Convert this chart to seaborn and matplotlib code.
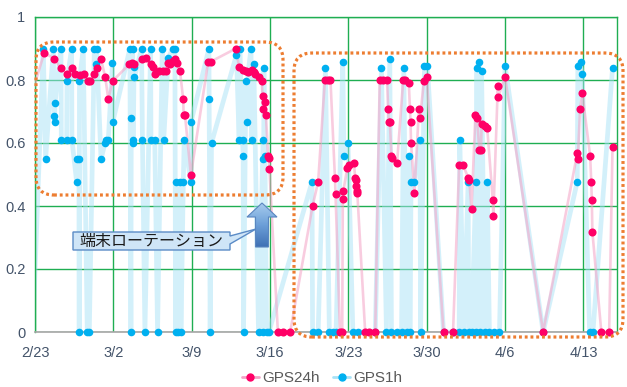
import numpy as np
import pandas as pd
import matplotlib
matplotlib.use("Agg")
import matplotlib.pyplot as plt
import seaborn as sns
from matplotlib.patches import FancyBboxPatch, Polygon
from matplotlib.lines import Line2D
from matplotlib.transforms import IdentityTransform
from matplotlib.colors import LinearSegmentedColormap

# ---- data -------------------------------------------------------------
# x = days since 2/23, y = positioning ratio
week_ticks = [0, 7, 14, 21, 28, 35, 42, 49]
week_labels = ["2/23", "3/2", "3/9", "3/16", "3/23", "3/30", "4/6", "4/13"]
y_ticks = [0, 0.2, 0.4, 0.6, 0.8, 1.0]
y_tick_labels = ["0", "0.2", "0.4", "0.6", "0.8", "1"]

gps1h_day = [
    -0.2, 0.74, 0.95, 1.64, 1.70, 1.75, 1.79, 2.32, 2.35, 2.83, 2.86, 3.27, 3.30,
    3.72, 3.78, 3.93, 3.95, 3.97, 4.31, 4.67, 4.85, 5.30, 5.45, 5.50, 5.90, 6.25,
    6.34, 6.55, 6.92, 6.96, 8.48, 8.57, 8.60, 8.72, 8.74, 8.78, 8.85, 8.89, 9.52,
    9.60, 9.82, 10.33, 10.36, 10.70, 10.95, 11.37, 11.50, 11.90, 12.30, 12.50,
    12.56, 12.62, 12.80, 12.95, 13.04, 13.25, 13.33, 13.93, 13.95, 15.54, 15.56,
    15.65, 15.77, 18.00, 18.24, 18.30, 18.54, 18.60, 18.63, 18.84, 18.90, 19.05,
    19.30, 19.35, 19.55, 19.97, 20.33, 20.38, 20.40, 20.45, 20.54, 20.70, 20.90,
    24.75, 24.80, 25.30, 25.95, 26.30, 26.60, 26.90, 27.50, 27.60, 27.97, 28.40,
    28.90, 30.40, 30.95, 31.40, 31.70, 31.85, 32.30, 32.75, 32.95, 33.20, 33.45,
    33.50, 33.60, 33.90, 34.40, 34.45, 34.80, 35.05, 36.50, 37.35, 37.90, 37.95,
    38.30, 38.70, 38.75, 39.00, 39.40, 39.42, 39.45, 39.70, 39.80, 39.90, 40.20,
    40.40, 40.60, 41.00, 41.50, 42.00, 45.40, 48.45, 48.50, 48.75, 48.90, 49.55,
    49.85, 51.60,
]
gps1h_val = [
    0.0, 0.90, 0.55, 0.90, 0.686, 0.668, 0.726, 0.90, 0.61, 0.61, 0.797, 0.90, 0.61,
    0.477, 0.548, 0.548, 0.0, 0.797, 0.90, 0.0, 0.0, 0.90, 0.85, 0.90, 0.548, 0.60,
    0.61, 0.61, 0.853, 0.668, 0.90, 0.0, 0.678, 0.90, 0.61, 0.60, 0.842, 0.808, 0.90,
    0.61, 0.0, 0.90, 0.61, 0.61, 0.0, 0.90, 0.61, 0.87, 0.90, 0.90,
    0.0, 0.477, 0.0, 0.477, 0.0, 0.477, 0.61, 0.477, 0.668, 0.90, 0.74,
    0.0, 0.60, 0.88, 0.61, 0.90, 0.61, 0.559, 0.0, 0.797, 0.668, 0.826,
    0.90, 0.61, 0.85, 0.0, 0.548, 0.61, 0.0, 0.837, 0.559, 0.0, 0.0,
    0.477, 0.0, 0.0, 0.837, 0.0, 0.0, 0.0, 0.858, 0.559, 0.60, 0.0,
    0.0, 0.0, 0.837, 0.0, 0.866, 0.0, 0.0, 0.0, 0.837, 0.0, 0.559,
    0.0, 0.477, 0.477, 0.61, 0.0, 0.846, 0.846, 0.0, 0.0, 0.0, 0.61,
    0.0, 0.477, 0.0, 0.0, 0.477, 0.0, 0.837, 0.858, 0.0, 0.83, 0.0,
    0.477, 0.0, 0.0, 0.0, 0.846, 0.0, 0.477, 0.846, 0.858, 0.818, 0.0,
    0.0, 0.837,
]

gps24h_day = [
    -0.5, 0.83, 1.72, 2.32, 2.83, 3.27, 3.57, 4.00, 4.37, 4.76, 4.91, 5.30, 5.50,
    5.90, 6.28, 6.55, 6.94, 8.42, 8.63, 8.87, 9.60, 9.88, 10.33, 10.50, 10.70,
    11.10, 11.45, 11.70, 11.90, 12.05, 12.35, 12.55, 12.65, 12.95, 13.24, 13.28,
    13.40, 13.93, 15.47, 15.69, 17.95, 18.24, 18.54, 18.84, 19.05, 19.35, 19.55,
    19.64, 20.00, 20.25, 20.33, 20.38, 20.54, 20.63, 20.83, 20.92, 20.95, 21.70,
    22.20, 22.80, 24.80, 25.30, 25.90, 26.20, 26.40, 26.80, 26.85, 27.25, 27.45,
    27.50, 27.55, 27.90, 28.05, 28.50, 28.60, 28.65, 28.70, 28.75, 28.80, 29.50,
    29.80, 30.40, 30.80, 31.10, 31.45, 31.55, 31.60, 31.70, 31.85, 31.90, 32.35,
    32.90, 33.10, 33.40, 33.50, 33.55, 33.60, 33.90, 34.30, 34.40, 34.75, 35.00,
    36.50, 37.35, 37.90, 38.25, 38.70, 38.80, 39.00, 39.35, 39.50, 39.70, 39.85,
    39.90, 40.20, 40.40, 40.90, 40.95, 41.35, 41.40, 42.00, 45.40, 48.45, 48.50,
    48.70, 48.90, 49.60, 49.70, 49.75, 49.80, 50.60, 51.30, 51.60,
]
gps24h_val = [
    0.73, 0.887, 0.867, 0.837, 0.82, 0.837, 0.82, 0.815, 0.82, 0.797, 0.797, 0.818, 0.837,
    0.866, 0.808, 0.739, 0.797, 0.85, 0.855, 0.85, 0.866, 0.87, 0.85, 0.84, 0.82,
    0.83, 0.83, 0.83, 0.855, 0.85, 0.86, 0.866, 0.853, 0.83, 0.739, 0.689,
    0.689, 0.498, 0.858, 0.858, 0.90, 0.84, 0.832, 0.829, 0.826, 0.832, 0.826,
    0.819, 0.808, 0.797, 0.749, 0.707, 0.731, 0.689, 0.559, 0.551, 0.516, 0.0,
    0.0, 0.0, 0.40, 0.477, 0.80, 0.80, 0.80, 0.488, 0.438, 0.0, 0.0,
    0.421, 0.448, 0.52, 0.53, 0.537, 0.49, 0.483, 0.463, 0.448, 0.44, 0.0,
    0.0, 0.0, 0.80, 0.80, 0.80, 0.707, 0.668, 0.668, 0.559, 0.552, 0.537,
    0.80, 0.80, 0.79, 0.707, 0.668, 0.60, 0.44, 0.707, 0.678, 0.797, 0.808,
    0.0, 0.0, 0.53, 0.53, 0.49, 0.483, 0.39, 0.689, 0.678, 0.578, 0.578,
    0.66, 0.654, 0.649, 0.42, 0.369, 0.78, 0.747, 0.81, 0.0, 0.567, 0.548,
    0.707, 0.758, 0.559, 0.477, 0.419, 0.318, 0.0, 0.0, 0.588,
]

df1h = pd.DataFrame({"day": gps1h_day, "value": gps1h_val})
df24 = pd.DataFrame({"day": gps24h_day, "value": gps24h_val})

# ---- style ------------------------------------------------------------
PINK = "#FF0066"
PINK_LINE = "#F4A3C6"
BLUE = "#00B0F0"
BLUE_LINE = "#A8E2F7"
GRID = "#1FAE52"
TICK_TXT = "#44546A"

sns.set_theme(style="white")
plt.rcParams["font.family"] = ["Liberation Sans", "Noto Sans CJK JP", "DejaVu Sans"]

W, H = 627, 387
fig = plt.figure(figsize=(W / 100, H / 100), dpi=100)
ax = fig.add_axes([35 / W, 55 / H, 582 / W, 315 / H])

# lines (kept in recording order)
sns.lineplot(data=df1h, x="day", y="value", estimator=None, sort=False,
             color=BLUE_LINE, lw=3.4, alpha=0.5, ax=ax, zorder=2)
sns.lineplot(data=df24, x="day", y="value", estimator=None, sort=False,
             color=PINK_LINE, lw=1.9, alpha=0.55, ax=ax, zorder=3)
# markers
sns.scatterplot(data=df1h[df1h["day"] >= 0], x="day", y="value", color=BLUE,
                s=30, linewidth=0, ax=ax, zorder=4, clip_on=False)
sns.scatterplot(data=df24[df24["day"] >= 0], x="day", y="value", color=PINK,
                s=34, linewidth=0, ax=ax, zorder=5, clip_on=False)

ax.set_xlim(0, 52)
ax.set_ylim(0, 1)
ax.set_xticks(week_ticks)
ax.set_xticklabels(week_labels)
ax.set_yticks(y_ticks)
ax.set_yticklabels(y_tick_labels)
ax.set_xlabel("")
ax.set_ylabel("")
ax.grid(True, color=GRID, lw=1.0)
ax.set_axisbelow(True)
ax.tick_params(axis="both", length=0, labelsize=10.5, colors=TICK_TXT)
ax.tick_params(axis="x", pad=10)
ax.tick_params(axis="y", pad=7)
for side in ["top", "right", "left"]:
    ax.spines[side].set_color(GRID)
    ax.spines[side].set_linewidth(1.0)
ax.spines["bottom"].set_color("#A6A6A6")
ax.spines["bottom"].set_linewidth(1.2)

# legend
handles = [
    Line2D([0], [0], color=PINK_LINE, lw=2, marker="o", markersize=5,
           markerfacecolor=PINK, markeredgecolor=PINK),
    Line2D([0], [0], color=BLUE_LINE, lw=2, marker="o", markersize=5,
           markerfacecolor=BLUE, markeredgecolor=BLUE),
]
fig.legend(handles, ["GPS24h", "GPS1h"], loc="center", ncol=2,
           bbox_to_anchor=(322 / W, 9 / H), frameon=False, fontsize=11,
           labelcolor="#595959", handlelength=1.1, handletextpad=0.2,
           columnspacing=0.9)


def disp(x, y_top):
    """pixel position measured from the top-left corner -> display coords"""
    return (x, H - y_top)


# dotted groupings
for x0, y0, x1, y1 in [(36, 42, 283, 195), (294, 53, 623, 337)]:
    box = FancyBboxPatch(disp(x0, y1), x1 - x0, y1 - y0,
                         boxstyle="round,pad=0,rounding_size=18",
                         transform=IdentityTransform(), fill=False,
                         edgecolor="#ED7D31", lw=2.3,
                         linestyle=(0, (0.9, 0.9)), zorder=10)
    fig.add_artist(box)

# callout with label
callout_pts = [(73, 232), (230, 232), (230, 236), (256, 229), (230, 244),
               (230, 250), (73, 250)]
callout = Polygon([disp(*p) for p in callout_pts], closed=True,
                  transform=IdentityTransform(), facecolor="#CFE5F7",
                  edgecolor="#5B8BC6", lw=1.0, zorder=11)
fig.add_artist(callout)
fig.text(151 / W, (H - 241.5) / H, "端末ローテーション", ha="center", va="center",
         fontsize=11.5, color="#1A1A1A", family=["Noto Sans CJK JP"], zorder=12)

# upward arrow with gradient fill
ax_arr = fig.add_axes([246 / W, (H - 248) / H, 32 / W, 46 / H], zorder=12)
ax_arr.set_xlim(246, 278)
ax_arr.set_ylim(248, 202)
ax_arr.axis("off")
arrow_pts = [(262, 203), (277, 217), (268.5, 217), (268.5, 247), (255.5, 247),
             (255.5, 217), (247, 217)]
grad = np.linspace(0, 1, 120).reshape(-1, 1)
cmap = LinearSegmentedColormap.from_list("arr", ["#A9CDEF", "#6C9FD8", "#3D6FB3"])
im = ax_arr.imshow(grad, extent=(246, 278, 248, 202), cmap=cmap, aspect="auto")
clip = Polygon(arrow_pts, closed=True, transform=ax_arr.transData,
               facecolor="none", edgecolor="#5A86C0", lw=0.8)
ax_arr.add_patch(clip)
im.set_clip_path(clip)

fig.savefig("out.png", dpi=100)
